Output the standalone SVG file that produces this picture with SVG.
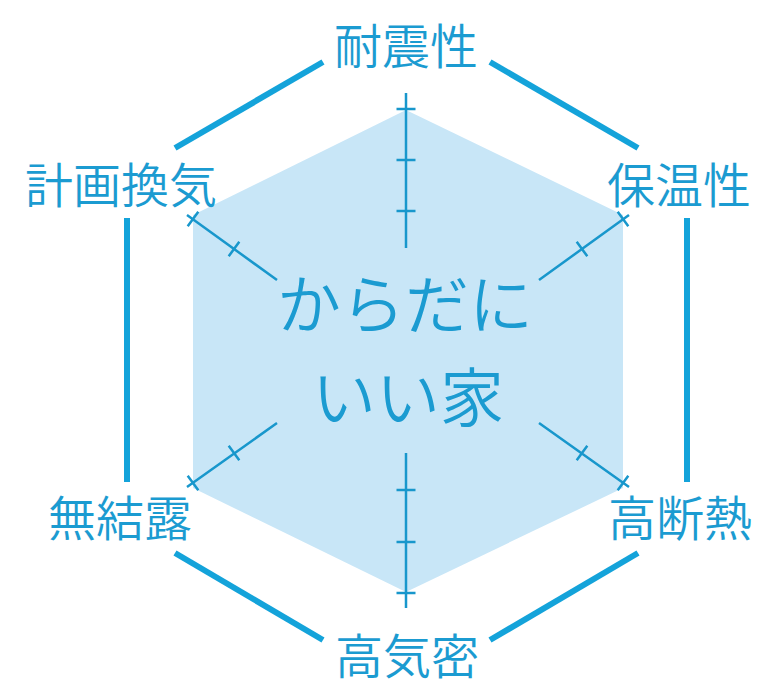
<svg xmlns="http://www.w3.org/2000/svg" width="768" height="692" viewBox="0 0 768 692">
<style>
.lbl{font-family:"Noto Sans CJK JP","Noto Sans CJK SC",sans-serif;font-size:48px;font-weight:350;fill:#1b9bd1;text-anchor:middle}
.ctr{font-family:"Noto Sans CJK JP","Noto Sans CJK SC",sans-serif;font-size:64px;font-weight:350;fill:#1b9bd1;text-anchor:middle}
.edge{stroke:#14a3da;stroke-width:6;fill:none}
.axis{stroke:#1897cc;stroke-width:2.5;fill:none}
</style>
<rect width="768" height="692" fill="#ffffff"/>
<g id="area">
<polygon points="406,110 623,215 623,488 406,592 193,488 193,215" fill="#c8e6f7"/>
</g>
<g id="connectors">
<line class="edge" x1="175" y1="148" x2="323" y2="62"/>
<line class="edge" x1="490" y1="62" x2="638" y2="148"/>
<line class="edge" x1="127" y1="218" x2="127" y2="482"/>
<line class="edge" x1="687" y1="218" x2="687" y2="482"/>
<line class="edge" x1="175" y1="553" x2="323" y2="640"/>
<line class="edge" x1="490" y1="640" x2="638" y2="553"/>
</g>
<g id="axes">
<path class="axis" d="M406,93V248M396.5,109H415.5M396.5,160H415.5M396.5,211H415.5"/>
<path class="axis" d="M406,453V608M396.5,490H415.5M396.5,542H415.5M396.5,593H415.5"/>
<path class="axis" d="M187,215L277,280M187.7,226.3L198.3,211.7M228.7,256.3L239.3,241.7"/>
<path class="axis" d="M187,487L277,423M187.7,475.7L198.3,490.3M228.7,445.7L239.3,460.3"/>
<path class="axis" d="M629,215L539,280M628.3,226.3L617.7,211.7M587.3,256.3L576.7,241.7"/>
<path class="axis" d="M629,487L539,423M628.3,475.7L617.7,490.3M587.3,445.7L576.7,460.3"/>
</g>
<g id="node-taishin"><text class="lbl" x="406" y="64">耐震性</text></g>
<g id="node-hoon"><text class="lbl" x="679" y="203">保温性</text></g>
<g id="node-kodannetsu"><text class="lbl" x="680" y="536">高断熱</text></g>
<g id="node-kokimitsu"><text class="lbl" x="407" y="674">高気密</text></g>
<g id="node-muketsuro"><text class="lbl" x="120" y="536">無結露</text></g>
<g id="node-keikaku"><text class="lbl" x="121" y="203">計画換気</text></g>
<g id="center">
<text class="ctr" x="405" y="328">からだに</text>
<text class="ctr" x="408" y="421">いい家</text>
</g>
</svg>
